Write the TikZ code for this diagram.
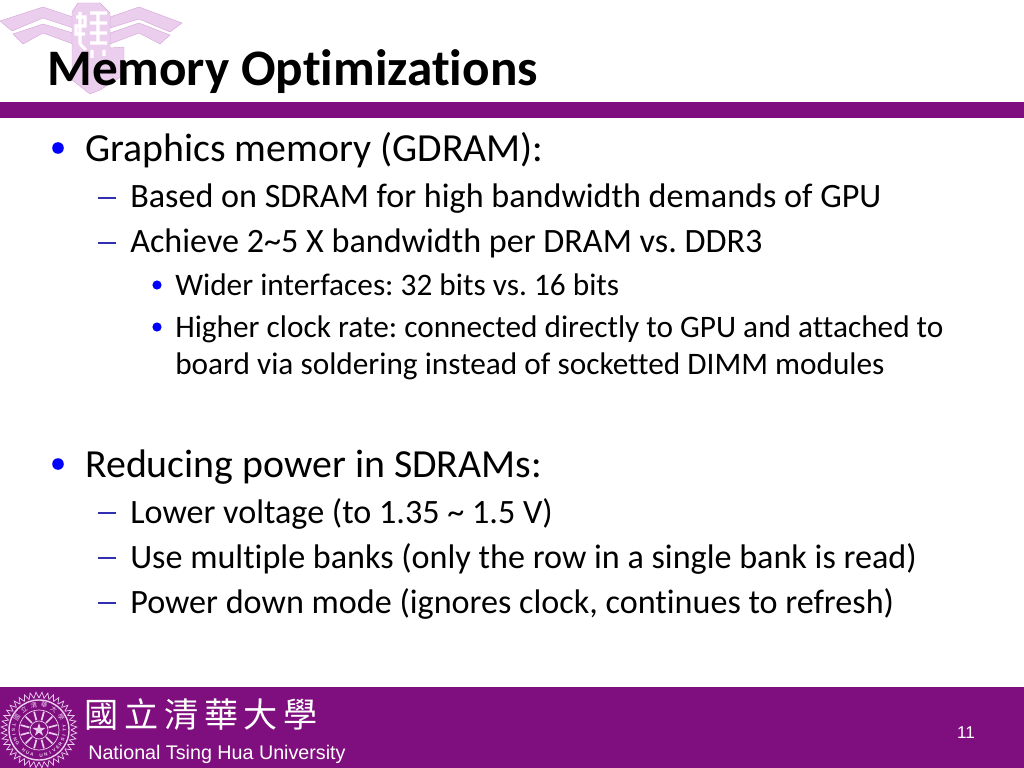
\documentclass[tikz,border=0pt]{standalone}
\usepackage{xcolor}
\usepackage{fontspec}
\setmainfont{Carlito}[Ligatures=NoCommon]
\newfontfamily\heros{Liberation Sans}
\newfontfamily\cjk{Noto Sans CJK TC}[LetterSpace=17]
\newfontfamily\cjkseal{Noto Sans CJK TC}
\usepackage{tikz}
\frenchspacing
\definecolor{nthu}{HTML}{7F0F7E}
\definecolor{crest}{HTML}{EBCDEE}
\definecolor{tick}{HTML}{3030B0}
\tikzset{
  lone/.style={anchor=base west,inner sep=0pt,font=\fontsize{28}{28}\selectfont},
  ltwo/.style={anchor=base west,inner sep=0pt,font=\fontsize{24}{24}\selectfont},
  lthree/.style={anchor=base west,inner sep=0pt,font=\fontsize{22}{22}\selectfont},
  wing/.style={fill=crest,draw=crest!80!nthu,line width=0.3pt},
  sealline/.style={draw=crest,line width=0.5pt},
  sealtext/.style={text=crest,inner sep=0pt}
}
\begin{document}
\begin{tikzpicture}[x=0.703125pt,y=-0.703125pt]
\useasboundingbox (0,0) rectangle (1024,768);
% crest
\draw [wing] (0,21) -- (43,7) -- (73,17) -- (73,28) -- (43,18) -- (12,31) -- cycle;
\draw [wing] (13,34) -- (43,24) -- (73,33) -- (73,44) -- (43,33) -- (23,44) -- cycle;
\draw [wing] (110,17) -- (139,7) -- (182,23) -- (170,32) -- (139,19) -- (110,28) -- cycle;
\draw [wing] (110,33) -- (139,23) -- (170,35) -- (160,44) -- (139,33) -- (110,44) -- cycle;
\draw [wing] (72,12) -- (78,3) -- (100,3) -- (110,13) -- (110,48) -- (124,47) -- (124,75) -- (100,90) -- (90,94) -- (72,80) -- cycle;
\draw [white,line width=2.2pt] (76,17) -- (85,17) -- (85,26) -- (76,26) -- (76,34) -- (85,34) (80,12) -- (80,44) (90,13) -- (107,13) (90,23) -- (107,23) (90,33) -- (107,33) (98,13) -- (98,42) (80,44) -- (86,50) (90,43) -- (107,43) (92,50) -- (92,58) (104,50) -- (104,56);
% title
\node (title) [anchor=base west,inner sep=0pt,font=\fontsize{36}{36}\selectfont\bfseries] at (47,85.5) {Memory Optimizations};
% bars
\fill [nthu] (0,102) rectangle (1024,118);
\fill [nthu] (0,687) rectangle (1024,768);
% first block
\fill [blue] (58,148) circle (5.8);
\node (gdram) [lone] at (85,162) {Graphics memory (GDRAM):};
\draw [tick,line width=1pt] (98,198) -- (116,198);
\node (based) [ltwo] at (130,208) {Based on SDRAM for high bandwidth demands of GPU};
\draw [tick,line width=1pt] (98,243) -- (116,243);
\node (achieve) [ltwo] at (130,253) {Achieve 2\textasciitilde5 X bandwidth per DRAM vs. DDR3};
\fill [blue] (157,285) circle (4.6);
\node (wider) [lthree] at (175,295.5) {Wider interfaces: 32 bits vs. 16 bits};
\fill [blue] (157,327) circle (4.6);
\node (higher) [lthree] at (175,337.5) {Higher clock rate: connected directly to GPU and attached to};
\node (board) [lthree] at (175,374.5) {board via soldering instead of socketted DIMM modules};
% second block
\fill [blue] (58,464) circle (5.8);
\node (power) [lone] at (85,477.5) {Reducing power in SDRAMs:};
\draw [tick,line width=1pt] (98,513) -- (116,513);
\node (lower) [ltwo] at (130,523.5) {Lower voltage (to 1.35 \textasciitilde{} 1.5 V)};
\draw [tick,line width=1pt] (98,558) -- (116,558);
\node (banks) [ltwo] at (130,568.5) {Use multiple banks (only the row in a single bank is read)};
\draw [tick,line width=1pt] (98,603) -- (116,603);
\node (mode) [ltwo] at (130,613.5) {Power down mode (ignores clock, continues to refresh)};
% seal
\begin{scope}[shift={(39,730)}]
\draw [sealline,line width=1pt] (0,0) circle (30);
\draw [sealline] (0,0) circle (20);
\draw [sealline] (0,0) circle (9);
\foreach \a in {0,9,...,351}
  \draw [sealline] (\a:32) -- (\a+4.5:38) -- (\a+9:32);
\foreach \a in {15,45,...,345}
  \draw [sealline,line width=1.2pt] (\a:10) -- (\a:19);
\fill [crest] (-90:7) -- (-54:2.6) -- (-18:7) -- (18:2.6) -- (54:7) -- (90:2.6) -- (126:7) -- (162:2.6) -- (198:7) -- (234:2.6) -- cycle;
\foreach \a/\c in {150/國,126/立,102/清,78/華,54/大,30/學}
  \node [sealtext,font=\fontsize{4.5}{4.5}\cjkseal,rotate=\a-90] at (-\a:25.5) {\c};
\foreach \c [count=\n from 0] in {T,S,I,N,G,{},H,U,A,{},U,N,I,V,E,R,S,I,T,Y}
  \node [sealtext,font=\fontsize{3.3}{3.3}\heros\bfseries,rotate=170+10.5*\n+90] at (-170-10.5*\n:25.5) {\c};
\end{scope}
% footer
\node (school) [anchor=base west,inner sep=0pt,text=white,font=\fontsize{24}{24}\cjk] at (84,727) {國立清華大學};
\node (nameline) [anchor=base west,inner sep=0pt,text=white,font=\fontsize{13.85}{13.85}\heros] at (88,759) {National Tsing Hua University};
\node (page) [text=white,inner sep=0pt,font=\fontsize{12}{12}\heros] at (966,733) {11};
\end{tikzpicture}
\end{document}
